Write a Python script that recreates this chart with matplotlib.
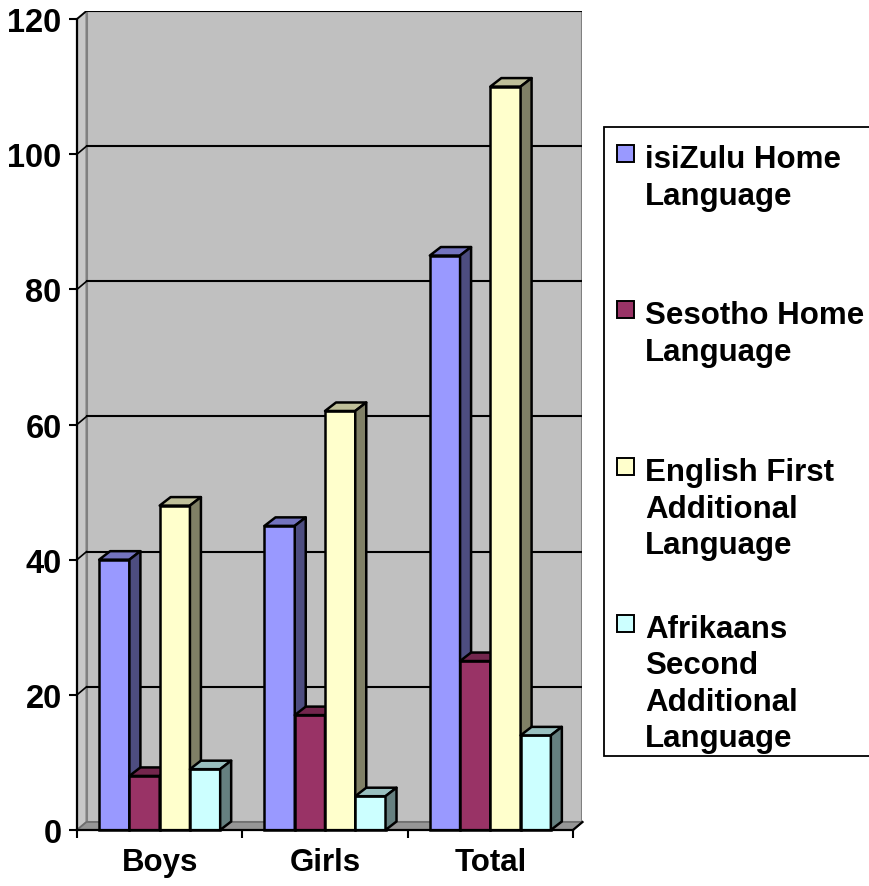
import matplotlib
matplotlib.use("Agg")
import matplotlib.pyplot as plt
from matplotlib.patches import Polygon, Rectangle
from matplotlib.colors import to_rgb
import numpy as np

plt.rcParams['font.family'] = ['Liberation Sans', 'DejaVu Sans']
plt.rcParams['font.weight'] = 'bold'

# ---------------- data ----------------
categories = ["Boys", "Girls", "Total"]
series_names = ["isiZulu Home Language", "Sesotho Home Language",
                "English First Additional Language", "Afrikaans Second Additional Language"]
legend_lines = [["isiZulu Home", "Language"],
                ["Sesotho Home", "Language"],
                ["English First", "Additional", "Language"],
                ["Afrikaans", "Second", "Additional", "Language"]]
isizulu = [40, 45, 85]
sesotho = [8, 17, 25]
english = [48, 62, 110]
afrikaans = [9, 5, 14]
values = [isizulu, sesotho, english, afrikaans]
y_ticks = [0, 20, 40, 60, 80, 100, 120]
colors = ['#9999FF', '#993366', '#FFFFCC', '#CCFFFF']

# ---------------- layout ----------------
W, H = 870, 887
fig = plt.figure(figsize=(W / 100, H / 100), dpi=100)
fig.patch.set_facecolor('white')

ax_l, ax_r, ax_t, ax_b = 77, 582.5, 12, 831
ax = fig.add_axes([ax_l / W, 1 - ax_b / H, (ax_r - ax_l) / W, (ax_b - ax_t) / H])

DX = 9.5 / 165.3      # wall depth in category units
DY = 8 / 6.758        # wall depth in value units
BDX = 11 / 165.3      # bar depth
BDY = 8.5 / 6.758
YMAX = 120
ax.set_xlim(0, 3 + DX)
ax.set_ylim(0, YMAX + DY)
ax.set_facecolor('none')

wall = '#C0C0C0'
edge_gray = '#808080'
# back wall
ax.add_patch(Rectangle((DX, DY), 3, YMAX, facecolor=wall, edgecolor=edge_gray, lw=1.5, zorder=1))
# side wall
ax.add_patch(Polygon([(0, 0), (DX, DY), (DX, YMAX + DY), (0, YMAX)], closed=True,
                     facecolor='#C8C8C8', edgecolor=edge_gray, lw=1.5, zorder=1))
# floor
ax.add_patch(Polygon([(0, 0), (3, 0), (3 + DX, DY), (DX, DY)], closed=True,
                     facecolor='#969696', edgecolor='#6E6E6E', lw=1.2, zorder=1.5, clip_on=False))

# gridlines on walls
for v in y_ticks[1:]:
    ax.plot([DX, 3 + DX], [v + DY, v + DY], color='black', lw=1.5, zorder=2)
    ax.plot([0, DX], [v, v + DY], color='black', lw=1.2, zorder=2)

# bars
bw = 0.183
off = (1 - 4 * bw) / 2
x0 = np.arange(len(categories))
for i, (vals, c) in enumerate(zip(values, colors)):
    rgb = np.array(to_rgb(c))
    side_c = rgb * 0.5
    top_c = rgb * 0.75
    lefts = x0 + off + i * bw
    ax.bar(lefts, vals, width=bw, align='edge', color=c, edgecolor='black',
           lw=1.8, zorder=10 + 3 * i, clip_on=False)
    for xl, v in zip(lefts, vals):
        ax.add_patch(Polygon([(xl, v), (xl + bw, v), (xl + bw + BDX, v + BDY), (xl + BDX, v + BDY)],
                             closed=True, facecolor=top_c, edgecolor='black', lw=1.8,
                             zorder=11 + 3 * i, joinstyle='round'))
        ax.add_patch(Polygon([(xl + bw, 0), (xl + bw + BDX, BDY), (xl + bw + BDX, v + BDY), (xl + bw, v)],
                             closed=True, facecolor=side_c, edgecolor='black', lw=1.8,
                             zorder=12 + 3 * i, joinstyle='round', clip_on=False))

# axes lines & ticks
for s in ['top', 'right']:
    ax.spines[s].set_visible(False)
ax.spines['left'].set_bounds(0, YMAX)
ax.spines['bottom'].set_bounds(0, 3)
for s in ['left', 'bottom']:
    ax.spines[s].set_linewidth(1.6)
    ax.spines[s].set_zorder(30)
ax.plot([3, 3 + DX], [0, DY], color='black', lw=1.6, zorder=30, clip_on=False)

ax.set_yticks(y_ticks)
ax.set_yticklabels([str(t) for t in y_ticks])
ax.tick_params(axis='y', direction='out', length=6, width=1.5, pad=5, labelsize=23.5)
ax.set_xticks([0, 1, 2, 3])
ax.set_xticklabels([])
ax.set_xticks(x0 + 0.5, minor=True)
ax.set_xticklabels(categories, minor=True)
ax.tick_params(axis='x', which='major', direction='out', length=6, width=1.5)
ax.tick_params(axis='x', which='minor', length=0, pad=12, labelsize=22.5)

# legend (drawn manually to match the original layout)
def fx(px):
    return px / W

def fy(py):
    return 1 - py / H

fig.add_artist(Rectangle((fx(604), fy(757)), fx(875) - fx(604), fy(128) - fy(757),
                         transform=fig.transFigure, facecolor='white', edgecolor='black', lw=1.3))
first_baselines = [168, 324, 481, 638]
line_step = 36.5
for lines, base, c in zip(legend_lines, first_baselines, colors):
    fig.add_artist(Rectangle((fx(617), fy(base - 5)), fx(17), 17 / H,
                             transform=fig.transFigure, facecolor=c, edgecolor='black', lw=1.4))
    for k, ln in enumerate(lines):
        fig.text(fx(645), fy(base + k * line_step), ln, ha='left', va='baseline',
                 fontsize=22.5, fontweight='bold')

fig.savefig('out.png', dpi=100, facecolor='white')
